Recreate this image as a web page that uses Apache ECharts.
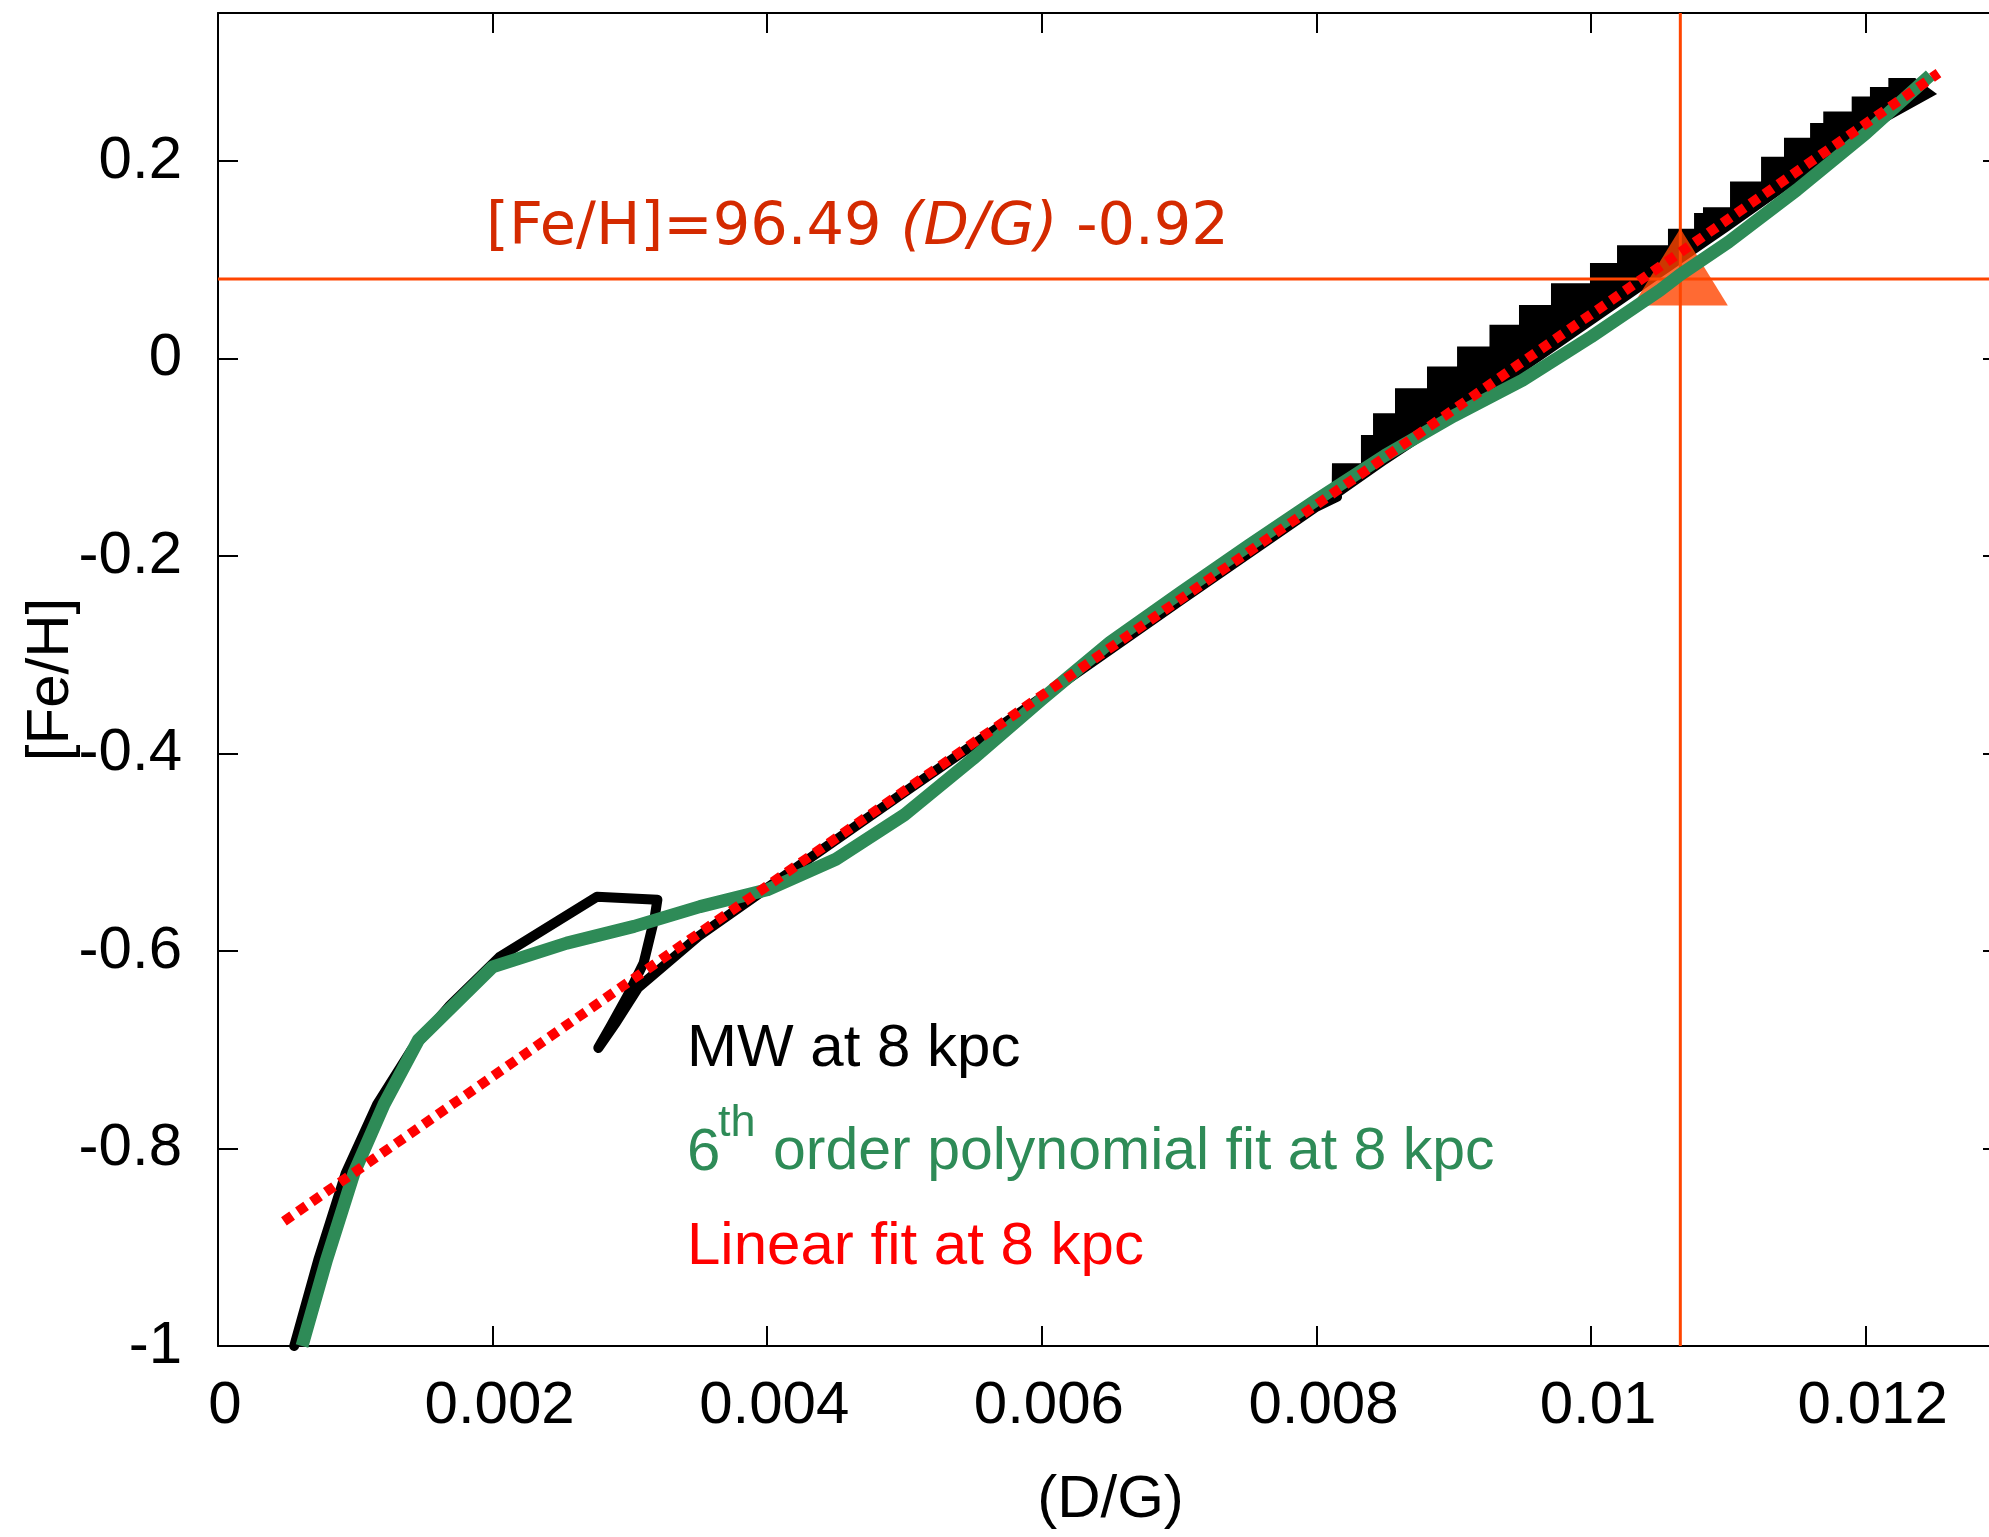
<!DOCTYPE html>
<html>
<head>
<meta charset="utf-8">
<script src="https://cdn.jsdelivr.net/npm/echarts@6/dist/echarts.min.js"></script>
<style>
  html, body { margin: 0; padding: 0; background: #fff; }
  #chart { width: 1989px; height: 1537px; }
</style>
</head>
<body>
<div id="chart"></div>
<script>
// Axis ticks
const xTickValues = [0, 0.002, 0.004, 0.006, 0.008, 0.01, 0.012];
const xTickLabels = ['0', '0.002', '0.004', '0.006', '0.008', '0.01', '0.012'];
const yTickValues = [-1, -0.8, -0.6, -0.4, -0.2, 0, 0.2];
const yTickLabels = ['-1', '-0.8', '-0.6', '-0.4', '-0.2', '0', '0.2'];

// Milky Way track at 8 kpc (lower branch and hook)
const mwDG  = [0.000555, 0.00073, 0.00093, 0.00116, 0.00141, 0.00169, 0.00205, 0.00276, 0.00320, 0.00318, 0.00310, 0.00298, 0.00286, 0.00277, 0.00290, 0.00306, 0.00350, 0.00400, 0.00500, 0.00600, 0.00700, 0.00800, 0.00815];
const mwFeH = [-1.0, -0.913, -0.825, -0.755, -0.700, -0.655, -0.606, -0.545, -0.548, -0.566, -0.612, -0.646, -0.676, -0.698, -0.672, -0.637, -0.585, -0.536, -0.439, -0.343, -0.246, -0.150, -0.140];

// Milky Way track at 8 kpc: oscillating upper branch (upper envelope corners)
const mwStepDG  = [0.008113, 0.008324, 0.008412, 0.008572, 0.008805, 0.009024, 0.009260, 0.009475, 0.009708, 0.009992, 0.010189, 0.010560, 0.010750, 0.010815, 0.011012, 0.011238, 0.011405, 0.011595, 0.011691, 0.011898, 0.012031, 0.012165, 0.012360];
const mwStepFeH = [-0.106, -0.0773, -0.0553, -0.0300, -0.0081, 0.0122, 0.0342, 0.0544, 0.0764, 0.0967, 0.1147, 0.1315, 0.1474, 0.1532, 0.1794, 0.2044, 0.2237, 0.2385, 0.2503, 0.2655, 0.2750, 0.2841, 0.2841];
// lower envelope of the same branch
const mwLowDG  = [0.00811, 0.0085, 0.0090, 0.0095, 0.0100, 0.0105, 0.0110, 0.0115, 0.0120, 0.01252];
const mwLowFeH = [-0.146, -0.108, -0.062, -0.015, 0.033, 0.081, 0.129, 0.178, 0.228, 0.268];

// 6th order polynomial fit at 8 kpc
const polyDG  = [0.000612, 0.00079, 0.00099, 0.00121, 0.00146, 0.00200, 0.00254, 0.00303, 0.00351, 0.00400, 0.00450, 0.00500, 0.00550, 0.00600, 0.00650, 0.00700, 0.00750, 0.00800, 0.00850, 0.00900, 0.00950, 0.01000, 0.01050, 0.01065, 0.01100, 0.01150, 0.01200, 0.01247];
const polyFeH = [-1.0, -0.913, -0.825, -0.755, -0.690, -0.616, -0.592, -0.575, -0.555, -0.538, -0.507, -0.462, -0.405, -0.345, -0.287, -0.238, -0.190, -0.143, -0.098, -0.058, -0.022, 0.022, 0.069, 0.085, 0.118, 0.171, 0.228, 0.287];

// Linear fit: [Fe/H] = slope * (D/G) + intercept
const fitSlope = 96.49;
const fitIntercept = -0.92;
const fitRangeDG = [0.00048, 0.01253];

// Solar reference point
const solarDG = [0.01065];
const solarFeH = [0.0805];

// Axis ranges
const xRange = [0, 0.013];
const yRange = [-1, 0.35];

const zip = (xs, ys) => xs.map((x, i) => [x, ys[i]]);
const fitLine = fitRangeDG.map(x => [x, fitSlope * x + fitIntercept]);

function tickFormatter(values, labels) {
  return function (v) {
    const i = values.findIndex(t => Math.abs(t - v) < 1e-9);
    return i >= 0 ? labels[i] : '';
  };
}

const FONT = '"Liberation Sans", Arial, sans-serif';
const axisCommon = {
  type: 'value',
  axisLine: { show: true, onZero: false, lineStyle: { color: '#000', width: 2 } },
  axisTick: { show: true, inside: true, length: 20, lineStyle: { color: '#000', width: 2 } },
  splitLine: { show: false }
};

const chart = echarts.init(document.getElementById('chart'), null, { renderer: 'canvas' });

chart.setOption({
  backgroundColor: '#ffffff',
  animation: false,
  grid: { left: 218, top: 13, width: 1785, height: 1333, containLabel: false, outerBoundsMode: 'none' },
  xAxis: [
    Object.assign({}, axisCommon, {
      position: 'bottom', min: xRange[0], max: xRange[1], interval: 0.002,
      axisLabel: {
        show: true, margin: 30, fontSize: 60, fontFamily: FONT, color: '#000',
        padding: [0, 0, 0, 14],
        formatter: tickFormatter(xTickValues, xTickLabels)
      },
      name: '(D/G)', nameLocation: 'middle', nameGap: 124, nameMoveOverlap: false,
      nameTextStyle: { fontSize: 60, fontFamily: FONT, color: '#000' }
    }),
    Object.assign({}, axisCommon, {
      position: 'top', min: xRange[0], max: xRange[1], interval: 0.002,
      axisLabel: { show: false }
    })
  ],
  yAxis: [
    Object.assign({}, axisCommon, {
      position: 'left', min: yRange[0], max: yRange[1], interval: 0.2,
      axisLabel: {
        show: true, margin: 36, fontSize: 60, fontFamily: FONT, color: '#000',
        formatter: tickFormatter(yTickValues, yTickLabels)
      },
      name: '[Fe/H]', nameLocation: 'middle', nameGap: 137, nameMoveOverlap: false,
      nameTextStyle: { fontSize: 60, fontFamily: FONT, color: '#000' }
    }),
    Object.assign({}, axisCommon, {
      position: 'right', min: yRange[0], max: yRange[1], interval: 0.2,
      axisLabel: { show: false }
    })
  ],
  series: [
    {
      name: 'MW at 8 kpc',
      type: 'line',
      data: zip(mwDG, mwFeH),
      showSymbol: false,
      z: 1,
      lineStyle: { color: '#000', width: 10, cap: 'round', join: 'round' }
    },
    {
      name: 'MW at 8 kpc (oscillating branch)',
      type: 'custom',
      coordinateSystem: 'cartesian2d',
      z: 1,
      data: [[mwStepDG[0], mwStepFeH[0]]],
      renderItem: function (params, api) {
        const pts = [];
        pts.push(api.coord([mwLowDG[0], mwLowFeH[0]]));
        pts.push(api.coord([mwStepDG[0], mwStepFeH[0]]));
        for (let i = 1; i < mwStepDG.length; i++) {
          pts.push(api.coord([mwStepDG[i], mwStepFeH[i - 1]]));
          pts.push(api.coord([mwStepDG[i], mwStepFeH[i]]));
        }
        for (let i = mwLowDG.length - 1; i >= 1; i--) {
          pts.push(api.coord([mwLowDG[i], mwLowFeH[i]]));
        }
        return { type: 'polygon', shape: { points: pts }, style: { fill: '#000' } };
      }
    },
    {
      name: 'solar D/G',
      type: 'line',
      data: [[solarDG[0], yRange[0]], [solarDG[0], yRange[1]]],
      showSymbol: false,
      z: 2,
      lineStyle: { color: '#ff4500', width: 3 }
    },
    {
      name: 'solar [Fe/H]',
      type: 'line',
      data: [[xRange[0], solarFeH[0]], [xRange[1], solarFeH[0]]],
      showSymbol: false,
      z: 2,
      lineStyle: { color: '#ff4500', width: 3 }
    },
    {
      name: 'solar',
      type: 'scatter',
      data: zip(solarDG, solarFeH),
      symbol: 'triangle',
      symbolSize: [95, 77],
      symbolOffset: [0, -12],
      itemStyle: { color: '#ff4500' },
      z: 2
    },
    {
      name: '6th order polynomial fit at 8 kpc',
      type: 'line',
      data: zip(polyDG, polyFeH),
      showSymbol: false,
      z: 3,
      lineStyle: { color: '#2e8b57', width: 13, cap: 'butt', join: 'round' }
    },
    {
      name: 'Linear fit at 8 kpc',
      type: 'line',
      data: fitLine,
      showSymbol: false,
      z: 4,
      lineStyle: { color: '#ff0000', width: 10, type: [10, 7], cap: 'butt' }
    }
  ],
  graphic: [
    {
      type: 'text', x: 486, y: 229, z: 10,
      style: {
        text: '{a|[Fe/H]=' + fitSlope.toFixed(2) + ' }{b|(D/G)}{a| ' + fitIntercept.toFixed(2) + '}',
        verticalAlign: 'middle', align: 'left',
        rich: {
          a: { fontSize: 59, fontFamily: '"DejaVu Sans", sans-serif', fill: '#d42a00', color: '#d42a00' },
          b: { fontSize: 59, fontFamily: '"DejaVu Sans", sans-serif', fontStyle: 'italic', fill: '#d42a00', color: '#d42a00' }
        }
      }
    },
    {
      type: 'text', x: 687, y: 1049, z: 10,
      style: { text: 'MW at 8 kpc', fontSize: 60, fontFamily: FONT, fill: '#000', align: 'left', verticalAlign: 'middle' }
    },
    {
      type: 'text', x: 687, y: 1153, z: 10,
      style: { text: '6', fontSize: 60, fontFamily: FONT, fill: '#2e8b57', align: 'left', verticalAlign: 'middle' }
    },
    {
      type: 'text', x: 718, y: 1124, z: 10,
      style: { text: 'th', fontSize: 45, fontFamily: FONT, fill: '#2e8b57', align: 'left', verticalAlign: 'middle' }
    },
    {
      type: 'text', x: 773, y: 1153, z: 10,
      style: { text: 'order polynomial fit at 8 kpc', fontSize: 59, fontFamily: FONT, fill: '#2e8b57', align: 'left', verticalAlign: 'middle' }
    },
    {
      type: 'text', x: 687, y: 1247, z: 10,
      style: { text: 'Linear fit at 8 kpc', fontSize: 60, fontFamily: FONT, fill: '#ff0000', align: 'left', verticalAlign: 'middle' }
    }
  ]
});
</script>
</body>
</html>
